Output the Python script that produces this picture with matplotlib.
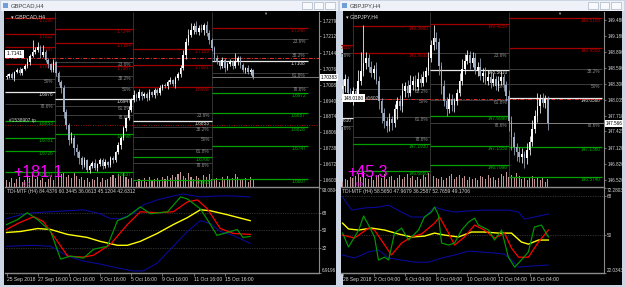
import matplotlib
matplotlib.use('Agg')
import matplotlib.pyplot as plt
import matplotlib.transforms as mtransforms
from matplotlib.patches import Rectangle

plt.rcParams['font.family'] = ['Liberation Sans', 'DejaVu Sans']

W, H = 625, 287

# ---------------- LEFT CHART: GBPCAD,H4 ----------------
L_CLOSE = [1.7044, 1.7053, 1.7036, 1.7061, 1.7070, 1.7057, 1.7074, 1.7087, 1.7104, 1.7129,
           1.7146, 1.7155, 1.7167, 1.7133, 1.7146, 1.7112, 1.7095, 1.7070, 1.7104, 1.7057,
           1.7019, 1.6993, 1.6891, 1.6836, 1.6773, 1.6781, 1.6739, 1.6722, 1.6696, 1.6666,
           1.6688, 1.6645, 1.6662, 1.6675, 1.6654, 1.6671, 1.6688, 1.6662, 1.6679, 1.6666,
           1.6696, 1.6688, 1.6722, 1.6751, 1.6781, 1.6823, 1.6866, 1.6900, 1.6942, 1.6964,
           1.6951, 1.6976, 1.6959, 1.6968, 1.6951, 1.6976, 1.6964, 1.6985, 1.6972, 1.6993,
           1.7006, 1.7002, 1.7019, 1.7027, 1.7010, 1.7036, 1.7053, 1.7078, 1.7133, 1.7188,
           1.7218, 1.7239, 1.7256, 1.7231, 1.7248, 1.7239, 1.7261, 1.7227, 1.7197, 1.7163,
           1.7121, 1.7104, 1.7087, 1.7112, 1.7078, 1.7095, 1.7104, 1.7087, 1.7108, 1.7121,
           1.7091, 1.7070, 1.7078, 1.7061, 1.7070, 1.7038]
L_OPEN0 = 1.7040
L_UPW = [8, 6, 10, 5, 7, 12, 6, 9, 15, 10, 50, 12, 20, 8, 30, 10, 8, 6, 12, 5,
         10, 8, 15, 12, 10, 25, 12, 15, 10, 8, 12, 6, 10, 8, 15, 6, 10, 8, 12, 6,
         10, 8, 6, 12, 8, 10, 6, 15, 10, 20, 8, 12, 6, 10, 8, 15, 6, 10, 8, 12,
         6, 10, 8, 12, 6, 8, 10, 15, 20, 18, 25, 30, 15, 20, 12, 18, 10, 15, 12, 10,
         8, 12, 10, 15, 8, 10, 12, 8, 35, 10, 8, 10, 6, 12, 8, 6]
L_LOW = [10, 8, 6, 12, 5, 8, 10, 6, 8, 12, 6, 10, 8, 12, 10, 8, 15, 10, 8, 12,
         15, 20, 25, 18, 20, 15, 30, 20, 25, 15, 10, 8, 12, 10, 8, 15, 10, 12, 8, 10,
         8, 12, 10, 8, 15, 10, 12, 8, 10, 8, 12, 8, 15, 10, 12, 8, 10, 15, 8, 10,
         8, 10, 12, 8, 10, 15, 8, 12, 10, 15, 12, 10, 15, 8, 12, 10, 20, 15, 18, 12,
         15, 10, 12, 8, 15, 10, 8, 12, 10, 15, 12, 8, 15, 10, 12, 8]
L_VOL = [6, 5, 8, 4, 7, 9, 5, 6, 10, 8, 12, 7, 9, 6, 8, 5, 7, 9, 6, 8,
         10, 12, 14, 9, 11, 8, 13, 10, 7, 9, 6, 8, 5, 7, 6, 9, 5, 8, 6, 7,
         9, 11, 8, 12, 10, 13, 9, 7, 8, 6, 5, 7, 6, 8, 5, 9, 6, 7, 8, 6,
         9, 7, 10, 8, 11, 9, 12, 14, 10, 8, 13, 9, 7, 10, 8, 6, 11, 9, 12, 7,
         6, 8, 5, 9, 7, 10, 6, 8, 12, 9, 7, 6, 8, 5, 9, 6]
L_PRICE_TICKS = [1.72790, 1.72120, 1.71440, 1.70760, 1.70080, 1.69400,
                 1.68740, 1.68060, 1.67380, 1.66720, 1.66030]
L_CURRENT = 1.70383
L_SEG = [-0.5, 18.8, 48.8, 79.0, 116.0]
L_RED = [[1.7290, 1.7222, 1.7167, 1.7095], [1.7244, 1.7184, 1.7087],
         [1.7159, 1.7091, 1.6998], [1.7248]]
L_GREEN = [[1.6853, 1.6781, 1.6726, 1.6637], [1.6798, 1.6637],
           [1.6700, 1.6603], [1.6972, 1.6887, 1.6828, 1.6747, 1.6607]]
L_PIVOT = [1.6976, 1.6947, 1.6853, 1.7108]
L_FIB = [[1.7031, 1.6925], [1.7104, 1.7044, 1.6998, 1.6917, 1.6879],
         [1.6887, 1.6828, 1.6785, 1.6734, 1.6675], [1.7201, 1.7142, 1.7057, 1.6998]]
L_FIB_TXT = [['50%', '78.6%'], ['23.6%', '38.2%', '50%', '61.8%', '78.6%'],
             ['23.6%', '38.2%', '50%', '61.8%', '78.6%'], ['23.6%', '38.2%', '61.8%', '78.6%']]
L_DASH = [1.7121, 1.6836]
L_TIME_POS = [0, 12, 24, 36, 48, 60, 72, 84]
L_TIME_TXT = ['25 Sep 2018', '27 Sep 16:00', '1 Oct 16:00', '3 Oct 16:00',
              '5 Oct 16:00', '9 Oct 16:00', '11 Oct 16:00', '15 Oct 16:00']
L_PROFIT = '+181.1'
L_TDI_TITLE = 'TDI-MTF (H4) 84.4376 60.3445 36.0613 45.1204 42.6312'

# TDI lines (bar position, value)
L_UP_X = [0, 5.4, 10.4, 17, 23.5, 29.6, 36, 40, 43.8, 48.8, 52.7, 58, 64.2, 68, 74.6, 81, 87.3, 93.8]
L_UP_Y = [62, 66, 68, 69, 70, 71, 67, 62, 62, 67, 76, 81, 85, 87, 84, 85, 85, 84]
L_LO_X = [0, 10.4, 17, 23.5, 29.6, 36, 42.7, 48.8, 52.7, 58, 64.2, 69.6, 74.6, 78.5, 82.3, 87.3, 93.8]
L_LO_Y = [34, 35, 34, 24, 19, 16, 12, 9, 9, 17, 34, 49, 60, 57, 49, 45, 37]
L_MID_X = [0, 5.4, 12, 17, 23.5, 31, 36, 42.7, 46.5, 51.5, 58, 64.2, 69.6, 74.6, 78.5, 85, 93.8]
L_MID_Y = [48, 49, 52, 51, 46, 43, 39, 35, 35, 39, 47, 56, 63, 71, 70, 66, 60]
L_RED_X = [0, 4.2, 10.4, 14.2, 19.6, 23.5, 29.6, 33.5, 40, 46.5, 51.5, 58, 64.2, 69.6, 73.5, 77.3, 82.3, 87.3, 93.8]
L_RED_Y = [51, 57, 64, 59, 39, 24, 23, 25, 36, 56, 69, 68, 69, 79, 81, 72, 52, 47, 46]
L_GRN_X = [0, 4.2, 8, 12, 17, 20.8, 24.6, 29.6, 33.5, 38.8, 42.7, 46.5, 51.5, 55.4, 62, 67,
           69.6, 74.6, 78.5, 81, 85, 88.8, 91, 93.8]
L_GRN_Y = [56, 61, 68, 61, 49, 21, 24, 22, 31, 34, 60, 64, 74, 67, 69, 84, 82, 72, 56, 45,
           48, 51, 43, 44]
L_TDI_TICKS = [93.0804, 68, 50, 32, 6.9196]
L_TDI_TXT = ['93.0804', '68', '50', '32', '6.9196']

# ---------------- RIGHT CHART: GBPJPY,H4 ----------------
R_CLOSE = [148.261, 148.393, 148.130, 148.018, 148.168, 148.074, 148.355, 148.543, 148.693, 148.768,
           148.618, 148.505, 148.580, 148.355, 147.980, 147.755, 147.605, 147.511, 147.643, 147.568,
           147.830, 147.980, 147.886, 148.168, 148.261, 148.130, 148.280, 148.355, 148.243, 148.393,
           148.318, 148.430, 148.543, 148.768, 149.011, 149.143, 149.068, 148.636, 148.261, 147.980,
           147.830, 148.018, 147.905, 147.980, 148.130, 148.355, 148.580, 148.730, 148.824, 148.693,
           148.768, 148.543, 148.618, 148.449, 148.505, 148.355, 148.430, 148.318, 148.393, 148.261,
           148.355, 148.430, 148.280, 148.074, 147.605, 147.324, 147.136, 147.043, 146.949, 147.005,
           146.930, 147.080, 147.230, 147.455, 147.699, 147.886, 148.018, 147.943, 148.018, 147.566]
R_OPEN0 = 148.200
R_UPW = [12, 8, 6, 10, 8, 6, 20, 35, 70, 12, 8, 10, 6, 12, 8, 6, 10, 8, 12, 6,
         10, 8, 12, 15, 8, 10, 18, 8, 10, 12, 8, 10, 6, 12, 10, 25, 12, 8, 6, 10,
         8, 12, 10, 6, 8, 15, 18, 12, 10, 8, 12, 10, 8, 15, 8, 10, 12, 8, 10, 6,
         8, 10, 6, 8, 12, 10, 8, 6, 8, 10, 6, 12, 10, 18, 12, 25, 10, 12, 8, 6]
R_LOW = [8, 12, 10, 6, 12, 8, 6, 8, 10, 12, 10, 8, 12, 6, 15, 18, 12, 10, 8, 12,
         6, 18, 8, 10, 12, 8, 6, 10, 8, 6, 8, 6, 10, 8, 6, 8, 12, 18, 15, 10,
         12, 8, 10, 12, 8, 6, 8, 10, 6, 12, 8, 6, 10, 8, 12, 6, 8, 10, 6, 8,
         10, 8, 12, 10, 18, 25, 15, 18, 10, 12, 18, 12, 10, 8, 6, 10, 12, 8, 10, 12]
R_VOL = [5, 7, 6, 9, 8, 10, 12, 9, 14, 8, 7, 10, 6, 9, 11, 8, 12, 7, 9, 10,
         6, 8, 11, 7, 9, 12, 8, 10, 6, 9, 7, 11, 9, 13, 12, 10, 8, 7, 9, 6,
         8, 10, 12, 7, 9, 11, 8, 10, 6, 9, 7, 8, 6, 10, 9, 7, 11, 8, 9, 6,
         8, 12, 10, 14, 9, 11, 8, 13, 10, 7, 9, 6, 8, 10, 7, 9, 6, 8, 5, 7]
R_PRICE_TICKS = [149.480, 149.180, 148.890, 148.590, 148.300, 148.005,
                 147.710, 147.425, 147.120, 146.820, 146.520]
R_CURRENT = 147.566
R_SEG = [-0.5, 4.2, 33.8, 64.2, 100.0]
R_RED = [[149.011], [149.368, 148.861], [149.405], [149.518, 148.955]]
R_GREEN = [[], [147.193, 146.686], [147.699, 147.155, 146.799], [147.136, 146.574]]
R_PIVOT = [147.661, None, 148.561, 148.036]
R_FIB = [[148.861, 147.511], [148.205, 148.019, 147.680, 147.324],
         [148.861, 148.299, 147.999, 147.568], [148.580, 148.299, 147.568]]
R_FIB_TXT = [['23.6%', '78.6%'], ['38.2%', '50%', '61.8%', '78.6%'],
             ['23.6%', '50%', '61.8%', '78.6%'], ['38.2%', '50%', '78.6%']]
R_DASH = [148.018]
R_TIME_POS = [0, 12, 24, 36, 48, 60, 72]
R_TIME_TXT = ['28 Sep 2018', '2 Oct 04:00', '4 Oct 04:00', '8 Oct 04:00',
              '10 Oct 04:00', '12 Oct 04:00', '16 Oct 04:00']
R_PROFIT = '+45.3'
R_TDI_TITLE = 'TDI-MTF (H4) 58.5650 47.9679 36.2587 52.7659 49.1706'

R_UP_X = [0, 3.5, 8.5, 13.8, 17.7, 22.7, 26.5, 31.5, 35.4, 39.2, 43.1, 48.5, 53.5, 63.8, 67.7, 70, 73.8, 79.2]
R_UP_Y = [67.5, 61.5, 62.5, 62.9, 63.8, 60.6, 58.3, 58.3, 62.9, 61.5, 60.6, 61.1, 61.5, 61.5, 60.6, 57.4, 58.3, 59.7]
R_LO_X = [0, 4.6, 10, 13.8, 17.7, 22.7, 27.7, 33.1, 38.1, 43.1, 48.5, 53.5, 58.5, 62.3, 65, 67.7, 72.7, 79.2]
R_LO_Y = [40.8, 39.4, 42.2, 43.1, 39.4, 38.5, 37.5, 37.5, 39.4, 40.8, 42.6, 42.2, 41.7, 41.2, 38.5, 35.2, 35.7, 36.2]
R_MID_X = [0, 2.3, 6.2, 11.2, 16.2, 21.5, 26.5, 31.5, 35.4, 39.2, 44.6, 49.6, 54.6, 60, 65, 68.8, 71.5, 75.4, 79.2]
R_MID_Y = [55.5, 52.8, 52.3, 53.2, 52.3, 50.5, 49.1, 49.5, 50.9, 50.0, 49.1, 51.4, 51.4, 50.9, 50.9, 46.8, 45.8, 47.7, 47.7]
R_RED_X = [0, 4.6, 10, 12.3, 16.2, 18.8, 22.7, 26.5, 30.4, 35.4, 37.3, 40.8, 43.1, 46.9, 50.8, 54.6,
           58.5, 62.3, 65, 67.7, 71.5, 75.4, 79.2]
R_RED_Y = [50.0, 48.6, 53.2, 52.3, 45.4, 40.8, 46.3, 49.1, 50.5, 55.5, 58.3, 50.9, 45.4, 49.1, 54.6, 52.3,
           48.6, 50.9, 44.0, 39.8, 39.8, 46.8, 52.3]
R_GRN_X = [0, 2.3, 6.2, 8.1, 10, 12.3, 13.8, 16.2, 17.7, 20, 22.7, 25.4, 29.2, 31.5, 34.2, 35.4, 36.9,
           38.1, 40.8, 43.1, 45.8, 48.5, 50.8, 52.3, 56.2, 58.5, 61.2, 63.8, 66.2, 68.8, 71.5, 73.8, 76.5, 79.2]
R_GRN_Y = [50.9, 44.5, 52.3, 58.8, 54.6, 49.1, 38.5, 39.8, 38.5, 50.9, 53.2, 47.7, 52.3, 58.3, 60.6, 62.9, 59.2,
           46.3, 45.4, 46.3, 52.3, 56.0, 57.8, 54.6, 52.3, 47.7, 52.3, 39.8, 35.2, 38.5, 42.2, 53.7, 54.6, 49.1]
R_TDI_TICKS = [71.7, 68, 50, 32.5]
R_TDI_TXT = ['72.2803', '68', '50', '22.0343']

# ---------------- drawing ----------------
fig = plt.figure(figsize=(W / 100, H / 100), dpi=100)
fig.patch.set_facecolor('#d7dee9')


def fr(x0, y0, x1, y1):
    return [x0 / W, 1 - y1 / H, (x1 - x0) / W, (y1 - y0) / H]


def box(x0, y0, x1, y1, fc, ec='none', lw=0.0, z=0):
    fig.add_artist(Rectangle((x0 / W, 1 - y1 / H), (x1 - x0) / W, (y1 - y0) / H,
                             transform=fig.transFigure, facecolor=fc, edgecolor=ec,
                             linewidth=lw, zorder=z))


def ftext(x, y, s, **kw):
    fig.text(x / W, 1 - y / H, s, **kw)


def window(x0, x1, title):
    box(x0, 0, x1, H, '#cbd5e3')
    box(x0 + 1, 1, x1 - 1, 10.5, '#eef2f8')
    box(x0 + 3, 2.5, x0 + 8, 8, '#6f9fd6')
    ftext(x0 + 11, 5.8, title, fontsize=4.2, color='#404040', va='center')
    bx = x1 - 37
    for k in range(3):
        box(bx + k * 11.5, 2.5, bx + k * 11.5 + 9.5, 9, '#f7f9fc', ec='#9aa6b8', lw=0.4)
    box(x0 + 4, 11, x1 - 3, 284.5, 'black')


window(0, 339, 'GBPCAD,H4')
window(339, 625, 'GBPJPY,H4')


def draw_chart(px0, px1, close, open0, upw, low, unit, vol, ticks, tick_fmt, current,
               segs, reds, greens, pivots, fibs, fib_txt, dashes, nbars, tpos, ttxt,
               profit, tdi_title, tdi_lines, tdi_ticks, tdi_txt, tdi_lim, tdi_levels,
               ylim, name, cur_fmt, lvl_fmt):
    ax = fig.add_axes(fr(px0, 12, px1, 187))
    axv = ax.twinx()
    axi = fig.add_axes(fr(px0, 188, px1, 273))
    ax.set_zorder(axv.get_zorder() + 1)
    ax.patch.set_visible(False)
    axv.set_facecolor('black')
    axi.set_facecolor('black')
    xs = list(range(len(close)))
    opens = [open0] + close[:-1]
    for i in xs:
        o, c = opens[i], close[i]
        hi = max(o, c) + upw[i] * unit
        lo = min(o, c) - low[i] * unit
        col = '#ffffff' if c >= o else '#9eacc2'
        ax.vlines(i, lo, hi, color=col, lw=0.55, zorder=5)
        hgt = abs(c - o)
        if hgt < unit * 2:
            hgt = unit * 2
        ax.bar(i, hgt, bottom=min(o, c), width=0.62, color=col, linewidth=0, zorder=6)
    axv.bar(xs, vol, width=0.42, color='#c29696', linewidth=0)
    axv.set_ylim(0, max(vol) * 11.5)
    axv.set_yticks([])
    for s in axv.spines.values():
        s.set_visible(False)

    ax.set_xlim(-0.6, nbars)
    ax.set_ylim(*ylim)
    axi.set_xlim(-0.6, nbars)

    lab_kw = dict(fontsize=3.4, ha='right', va='top', zorder=3, clip_on=True)
    for k in range(len(segs) - 1):
        a, b = segs[k], segs[k + 1]
        if k > 0:
            ax.vlines(a, ylim[0], ylim[1], color='#3a3a3a', lw=0.6, zorder=1)
        for v, t in zip(fibs[k], fib_txt[k]):
            ax.hlines(v, a, b, color='#3d3d3d', lw=0.7, zorder=2)
            ax.text(b - 0.8, v, t, color='#8c8c8c', **lab_kw)
        for v in reds[k]:
            ax.hlines(v, a, b, color='#a00000', lw=0.9, zorder=2)
            ax.text(b - 0.8, v, lvl_fmt % v, color='#b00000', **lab_kw)
        for v in greens[k]:
            ax.hlines(v, a, b, color='#00a000', lw=0.9, zorder=2)
            ax.text(b - 0.8, v, lvl_fmt % v, color='#00b000', **lab_kw)
        if pivots[k] is not None:
            ax.hlines(pivots[k], a, b, color='#e8e8e8', lw=0.9, zorder=2)
            ax.text(b - 0.8, pivots[k], lvl_fmt % pivots[k], color='#dcdcdc', **lab_kw)
    for j, v in enumerate(dashes):
        ax.axhline(v, color='#e03030' if j == 0 else '#a01010', lw=0.7,
                   ls=(0, (4, 1.5, 1, 1.5)) if j == 0 else (0, (1, 1.5)), zorder=4)
    ax.hlines(current, segs[-2], nbars, color='#8c8c8c', lw=0.6, zorder=2)

    for a_ in (ax, axi):
        a_.spines['top'].set_visible(False)
        a_.spines['left'].set_visible(False)
        a_.spines['right'].set_color('#8a8a8a')
        a_.spines['bottom'].set_color('#8a8a8a')
        a_.spines['right'].set_linewidth(0.8)
        a_.spines['bottom'].set_linewidth(1.0)
        a_.yaxis.tick_right()
        a_.tick_params(axis='y', colors='#9a9a9a', labelcolor='#d8d8d8', labelsize=3.3,
                       length=1.5, width=0.5, pad=0.8)
    ax.set_xticks([])
    ax.set_yticks(ticks)
    ax.set_yticklabels([tick_fmt % t for t in ticks])
    trans = mtransforms.blended_transform_factory(ax.transAxes, ax.transData)
    ax.text(1.006, current, cur_fmt % current, transform=trans, fontsize=3.3, color='black',
            ha='left', va='center', zorder=10, clip_on=False,
            bbox=dict(boxstyle='square,pad=0.15', fc='white', ec='none'))

    ax.text(0.02, 0.985, '\u25be ' + name, transform=ax.transAxes, fontsize=3.8, color='#e0e0e0',
            va='top', ha='left', zorder=10)
    ax.text(0.025, 0.055, profit, transform=ax.transAxes, fontsize=11.5, color='#ff00ff',
            va='baseline', ha='left', zorder=11)
    ax.text(0.055, 0.008, '0.0', transform=ax.transAxes, fontsize=4.0, color='#e000e0',
            va='baseline', ha='left', zorder=11)
    ax.text(0.83, 1.0, '\u25bc', transform=ax.transAxes, fontsize=3, color='#a0a0a0',
            ha='center', va='top', zorder=11)

    cols = ['#0a0aa0', '#0a0aa0', '#ffff00', '#ff0000', '#009a00']
    widths = [0.75, 0.75, 1.0, 0.9, 0.85]
    for (lx, ly), cc, ww in zip(tdi_lines, cols, widths):
        axi.plot(lx, ly, color=cc, lw=ww, zorder=4)
    for lv in tdi_levels:
        axi.axhline(lv, color='#5a5a5a', lw=0.5, ls=(0, (1, 1.5)), zorder=1)
    axi.set_ylim(*tdi_lim)
    axi.set_yticks(tdi_ticks)
    axi.set_yticklabels(tdi_txt)
    labs = axi.get_yticklabels()
    labs[0].set_va('top')
    labs[-1].set_va('bottom')
    axi.text(0.005, 0.985, tdi_title, transform=axi.transAxes, fontsize=3.6, color='#d0d0d0',
             va='top', ha='left')
    axi.set_xticks(tpos)
    axi.set_xticklabels(ttxt)
    axi.tick_params(axis='x', colors='#9a9a9a', labelcolor='#d8d8d8', labelsize=3.6,
                    length=2, width=0.5, pad=1.2)
    for lab in axi.get_xticklabels():
        lab.set_ha('left')
    return ax, axi


lax, lai = draw_chart(5, 319, L_CLOSE, L_OPEN0, L_UPW, L_LOW, 0.0001, L_VOL,
                      L_PRICE_TICKS, '%.5f', L_CURRENT, L_SEG, L_RED, L_GREEN, L_PIVOT,
                      L_FIB, L_FIB_TXT, L_DASH, 120.3, L_TIME_POS, L_TIME_TXT, L_PROFIT,
                      L_TDI_TITLE,
                      [(L_UP_X, L_UP_Y), (L_LO_X, L_LO_Y), (L_MID_X, L_MID_Y),
                       (L_RED_X, L_RED_Y), (L_GRN_X, L_GRN_Y)],
                      L_TDI_TICKS, L_TDI_TXT, (6.9196, 93.0804), [68, 50, 32],
                      (1.65732, 1.73159), 'GBPCAD,H4', '%.5f', '%.4f')
lax.text(0.0, 1.7139, '1.7141 ', fontsize=3.4, color='black', ha='left', va='center', zorder=12,
         bbox=dict(boxstyle='square,pad=0.3', fc='white', ec='none'))
lax.text(1.0, 1.6845, '#1538907 tp', fontsize=3.4, color='#cfcfcf', ha='left', va='bottom', zorder=12)

rax, rai = draw_chart(341, 604, R_CLOSE, R_OPEN0, R_UPW, R_LOW, 0.01, R_VOL,
                      R_PRICE_TICKS, '%.3f', R_CURRENT, R_SEG, R_RED, R_GREEN, R_PIVOT,
                      R_FIB, R_FIB_TXT, R_DASH, 100.6, R_TIME_POS, R_TIME_TXT, R_PROFIT,
                      R_TDI_TITLE,
                      [(R_UP_X, R_UP_Y), (R_LO_X, R_LO_Y), (R_MID_X, R_MID_Y),
                       (R_RED_X, R_RED_Y), (R_GRN_X, R_GRN_Y)],
                      R_TDI_TICKS, R_TDI_TXT, (32.5, 71.7), [68, 50],
                      (146.390, 149.628), 'GBPJPY,H4', '%.3f', '%.4f')
rax.text(0.5, 148.030, '148.0180', fontsize=3.4, color='black', ha='left', va='center', zorder=12,
         bbox=dict(boxstyle='square,pad=0.3', fc='white', ec='none'))
rax.text(9.0, 148.030, '#1602', fontsize=3.4, color='#cfcfcf', ha='left', va='center', zorder=12)

fig.savefig('out.png', dpi=100, facecolor=fig.get_facecolor())
